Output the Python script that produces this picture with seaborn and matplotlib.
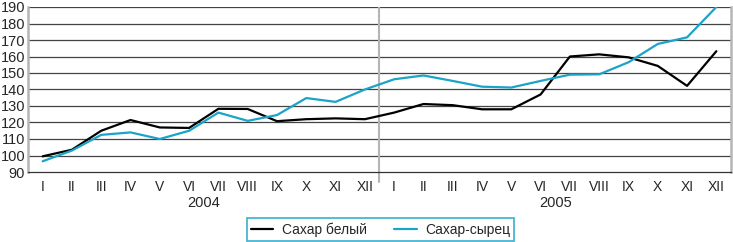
import matplotlib
matplotlib.use("Agg")
import matplotlib.pyplot as plt
import seaborn as sns
import pandas as pd
import numpy as np

months = ["I", "II", "III", "IV", "V", "VI", "VII", "VIII", "IX", "X", "XI", "XII"]
years = ["2004", "2005"]
white_sugar = [99.5, 103.5, 115, 121.5, 117, 116.7, 128.3, 128.2, 120.8, 122, 122.5, 122,
               126, 131.2, 130.5, 128, 128, 137, 160, 161.3, 159.5, 154.3, 142.2, 163.2]
raw_sugar = [96.5, 103, 112.5, 114, 110, 115, 126, 121, 124.5, 134.8, 132.5, 140,
             146.2, 148.5, 145.2, 141.7, 141.2, 145.2, 149, 149.2, 156.5, 167.6, 171.6, 190]
series_names = ["Сахар белый", "Сахар-сырец"]
colors = ["#000000", "#1ba3c8"]

sns.set_style("white")
plt.rcParams["font.family"] = ["Liberation Sans", "DejaVu Sans"]

labels = months * len(years)
n = len(labels)
df = pd.DataFrame({
    "idx": list(range(n)) * 2,
    "value": white_sugar + raw_sugar,
    "series": [series_names[0]] * n + [series_names[1]] * n,
})

fig = plt.figure(figsize=(7.33, 2.42), dpi=100)
ax = fig.add_axes([28 / 733, 1 - 172 / 242, (731 - 28) / 733, (172 - 7) / 242])

sns.lineplot(data=df, x="idx", y="value", hue="series", palette=colors,
             linewidth=1.6, ax=ax, legend=True)

ax.set_xlim(-0.5, n - 0.5)
ax.set_ylim(90, 190)
ax.set_yticks(range(90, 191, 10))
for yv in range(100, 191, 10):
    ax.axhline(yv, color="#444444", linewidth=0.9, zorder=0)

ax.set_xticks(range(n))
ax.set_xticklabels(labels, fontsize=10)
ax.set_xticks(np.arange(-0.5, n, 1), minor=True)
ax.tick_params(axis="x", which="major", length=0, pad=6)
ax.tick_params(axis="x", which="minor", length=4, width=0.8, color="#333333", direction="out")
ax.tick_params(axis="y", length=0, pad=2, labelsize=10.5)
ax.set_xlabel("")
ax.set_ylabel("")

for s in ["left", "right"]:
    ax.spines[s].set_color("#b5b5b5")
    ax.spines[s].set_linewidth(1.8)
ax.spines["top"].set_visible(False)
ax.spines["bottom"].set_color("#333333")
ax.spines["bottom"].set_linewidth(0.9)

# year divider
ax.plot([11.5, 11.5], [90, 190], color="#b5b5b5", linewidth=1.5, zorder=1)
ax.plot([11.5, 11.5], [90, 84], color="#b5b5b5", linewidth=1.5, clip_on=False)

for i, yr in enumerate(years):
    ax.text(i * 12 + 5.5, -0.19, yr, transform=ax.get_xaxis_transform(),
            ha="center", va="center", fontsize=10.5)

leg = ax.legend(loc="center", bbox_to_anchor=((380.5 - 28) / 703, -0.348),
                ncol=2, frameon=True, fancybox=False, fontsize=10,
                handlelength=1.6, columnspacing=2.0, borderpad=0.3,
                handletextpad=0.6, borderaxespad=0)
leg.get_frame().set_edgecolor("#1ba3c8")
leg.get_frame().set_linewidth(1.3)
for line in leg.get_lines():
    line.set_linewidth(1.6)

fig.savefig("out.png", dpi=100)
